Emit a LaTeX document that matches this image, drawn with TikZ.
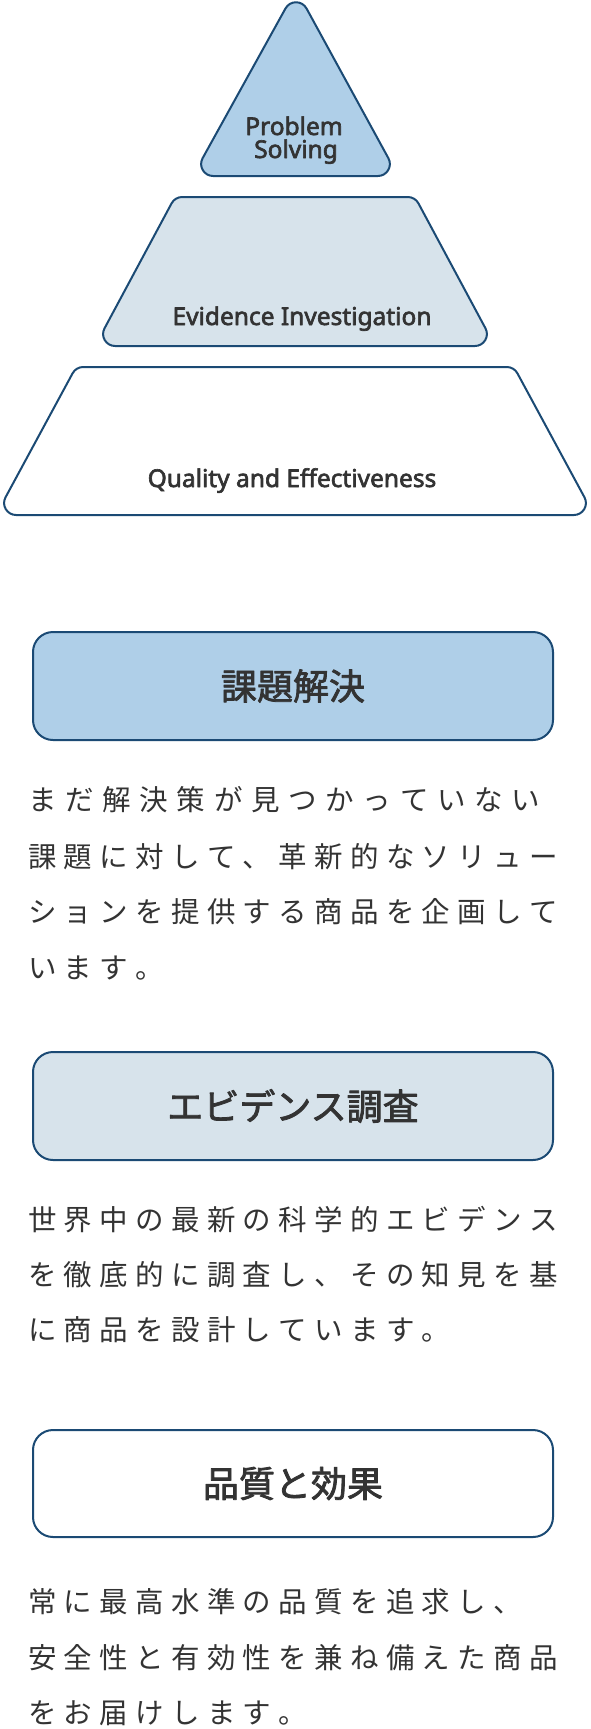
\documentclass[tikz,border=0pt]{standalone}
\usepackage{fontspec}
\setmainfont{Noto Sans}
\newfontfamily\labfont{Noto Sans}[FakeBold=2.6]
\newfontfamily\jpfont{Noto Sans CJK JP}
\newfontfamily\jphead{Noto Sans CJK JP}[FakeBold=2.2]
\definecolor{strokeblue}{HTML}{1B4A74}
\definecolor{tierA}{HTML}{AFCFE8}
\definecolor{tierB}{HTML}{D7E3EB}
\definecolor{textgray}{HTML}{333333}
\makeatletter
\newlength\trkpitch
\setlength\trkpitch{35.8pt}
\def\trk@end{}
\newcommand\trk[2][35.8pt]{\setlength\trkpitch{#1}\trk@loop#2\trk@end}
\def\trk@loop#1{\ifx#1\trk@end\else\makebox[\trkpitch][l]{#1}\expandafter\trk@loop\fi}
\makeatother
\begin{document}
\begin{tikzpicture}[x=1pt,y=-1pt,line join=round,
  tier/.style={draw=strokeblue,line width=2pt},
  lab/.style={inner sep=0pt,anchor=base,text=textgray,font=\labfont\fontsize{24.5}{24.5}\selectfont},
  hbox/.style={draw=strokeblue,line width=2pt,rounded corners=20pt,minimum width=520pt,inner sep=0pt,
    text=textgray,font=\jphead\fontsize{36}{36}\selectfont},
  para/.style={inner sep=0pt,anchor=base west,text=textgray,font=\jpfont\fontsize{28.5}{28.5}\selectfont}]
\useasboundingbox (0,0) rectangle (590,1729);
\fill[white] (0,0) rectangle (590,1729);
% pyramid (corners rounded with radius 12)
\path[tier,fill=tierA] (296,176) -- (213.12,176)
  .. controls (204.03,176) and (198.24,166.29) .. (202.56,158.29)
  -- (285.43,8.56) .. controls (289.96,0.16) and (302.04,0.16) .. (306.57,8.56)
  -- (388.44,158.29) .. controls (392.76,166.29) and (386.97,176) .. (377.88,176) -- cycle;
\path[tier,fill=tierB] (295,346) -- (115.1,346)
  .. controls (106.0,346) and (100.22,336.31) .. (104.53,328.31)
  -- (171.60,203.31) .. controls (173.69,199.43) and (177.76,197) .. (182.17,197)
  -- (407.83,197) .. controls (412.24,197) and (416.31,199.43) .. (418.40,203.31)
  -- (485.47,328.31) .. controls (489.78,336.31) and (484.0,346) .. (474.9,346) -- cycle;
\path[tier,fill=white] (295,515) -- (16.1,515)
  .. controls (7.0,515) and (1.22,505.31) .. (5.53,497.31)
  -- (72.60,373.31) .. controls (74.69,369.43) and (78.76,367) .. (83.17,367)
  -- (506.83,367) .. controls (511.24,367) and (515.31,369.43) .. (517.40,373.31)
  -- (584.47,497.31) .. controls (588.78,505.31) and (583.0,515) .. (573.9,515) -- cycle;
\node[lab] (ps1) at (294,135) {Problem};
\node[lab] (ps2) at (296,158) {Solving};
\node[lab] (ei) at (302,325) {Evidence Investigation};
\node[lab] (qe) at (292,487) {Quality and Effectiveness};
% box 1
\node[hbox,fill=tierA,minimum height=108pt] (h1) at (293,686) {課題解決};
\node[para] (p11) at (28,810.5) {\trk[37.2pt]{まだ解決策が見つかっていない}};
\node[para] (p12) at (28,867.5) {\trk{課題に対して、革新的なソリュー}};
\node[para] (p13) at (28,922.5) {\trk{ションを提供する商品を企画して}};
\node[para] (p14) at (28,978.5) {\trk{います。}};
% box 2
\node[hbox,fill=tierB,minimum height=108pt] (h2) at (293,1106) {エビデンス調査};
\node[para] (p21) at (28,1230.5) {\trk{世界中の最新の科学的エビデンス}};
\node[para] (p22) at (28,1285.5) {\trk{を徹底的に調査し、その知見を基}};
\node[para] (p23) at (28,1340.5) {\trk{に商品を設計しています。}};
% box 3
\node[hbox,fill=white,minimum height=107pt] (h3) at (293,1483.5) {品質と効果};
\node[para] (p31) at (28,1612.5) {\trk{常に最高水準の品質を追求し、}};
\node[para] (p32) at (28,1668.5) {\trk{安全性と有効性を兼ね備えた商品}};
\node[para] (p33) at (28,1723.5) {\trk{をお届けします。}};
\end{tikzpicture}
\end{document}
